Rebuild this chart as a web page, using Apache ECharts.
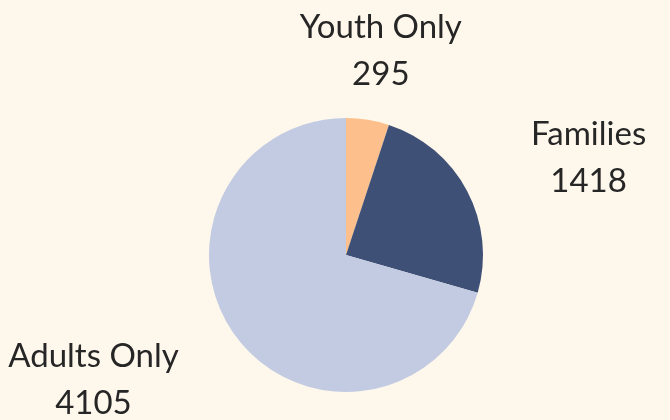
<!DOCTYPE html>
<html>
<head>
<meta charset="utf-8">
<script src="https://cdn.jsdelivr.net/npm/echarts@6/dist/echarts.min.js"></script>
<style>
  html, body { margin: 0; padding: 0; background: #fef7eb; }
  #chart { width: 670px; height: 420px; }
</style>
</head>
<body>
<div id="chart"></div>
<script>
// slice names and counts
var categories = ['Youth Only', 'Families', 'Adults Only']
var counts = [295, 1418, 4105]
var colors = ['#fdc08c', '#3f5077', '#c3cbe3']

var chart = echarts.init(document.getElementById('chart'))

chart.setOption({
  backgroundColor: '#fef7eb',
  animation: false,
  color: colors,
  series: [
    {
      type: 'pie',
      center: [346, 255],
      radius: 137,
      startAngle: 90,
      clockwise: true,
      avoidLabelOverlap: false,
      label: {
        show: true,
        position: 'outside',
        distanceToLabelLine: 2,
        formatter: '{t|{b}}\n{t|{c}}',
        rich: {
          t: {
            align: 'center',
            fontFamily: 'Lato',
            fontSize: 33,
            lineHeight: 47,
            color: '#262626'
          }
        }
      },
      labelLine: {
        show: false,
        length: 70,
        length2: 0
      },
      // the top slice label sits centred over its point
      labelLayout: function (p) {
        if (p.dataIndex === 0) {
          return { align: 'center' }
        }
      },
      itemStyle: { borderWidth: 0 },
      emphasis: { disabled: true },
      data: categories.map(function (name, i) {
        return { name: name, value: counts[i] }
      })
    }
  ]
})
</script>
</body>
</html>
